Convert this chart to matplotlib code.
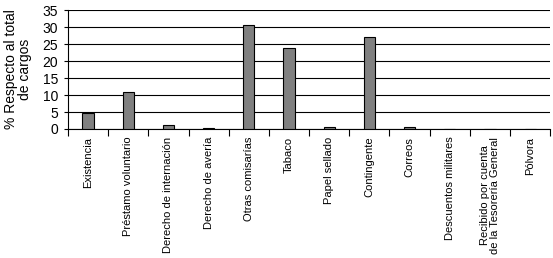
import matplotlib.pyplot as plt
import numpy as np

plt.rcParams['font.family'] = ['Liberation Sans', 'DejaVu Sans']

categorias = ['Existencia', 'Préstamo voluntario', 'Derecho de internación',
              'Derecho de avería', 'Otras comisarías', 'Tabaco', 'Papel sellado',
              'Contingente', 'Correos', 'Descuentos militares',
              'Recibido por cuenta\nde la Tesorería General', 'Pólvora']
valores = [4.8, 10.8, 1.1, 0.3, 30.5, 23.7, 0.6, 27.0, 0.5, 0, 0, 0]
yticks = [0, 5, 10, 15, 20, 25, 30, 35]

fig = plt.figure(figsize=(5.53, 2.58), dpi=100)
ax = fig.add_axes([0.123, 0.5, 0.872, 0.461])

x = np.arange(len(categorias))
ax.bar(x, valores, width=0.28, color='#808080', edgecolor='black', linewidth=0.8, zorder=3)

ax.set_xlim(-0.5, len(categorias) - 0.5)
ax.set_ylim(0, 35)
ax.set_yticks(yticks)
ax.yaxis.grid(True, color='black', linewidth=0.8, zorder=0)
ax.tick_params(axis='y', labelsize=10, length=3, width=0.8, direction='out', pad=4)

ax.set_xticks(x)
ax.set_xticklabels(categorias, rotation=90, fontsize=8, va='top', ha='center', linespacing=1.0)
ax.tick_params(axis='x', which='major', length=0, pad=5.5)
ax.set_xticks(np.arange(-0.5, len(categorias), 1), minor=True)
ax.tick_params(axis='x', which='minor', length=5, width=0.8, direction='out')

for s in ['top', 'right']:
    ax.spines[s].set_visible(False)
ax.spines['left'].set_linewidth(0.8)
ax.spines['bottom'].set_linewidth(0.8)

ax.set_ylabel('% Respecto al total\nde cargos', fontsize=10, linespacing=1.0, labelpad=8)

fig.savefig('out.png', dpi=100)
